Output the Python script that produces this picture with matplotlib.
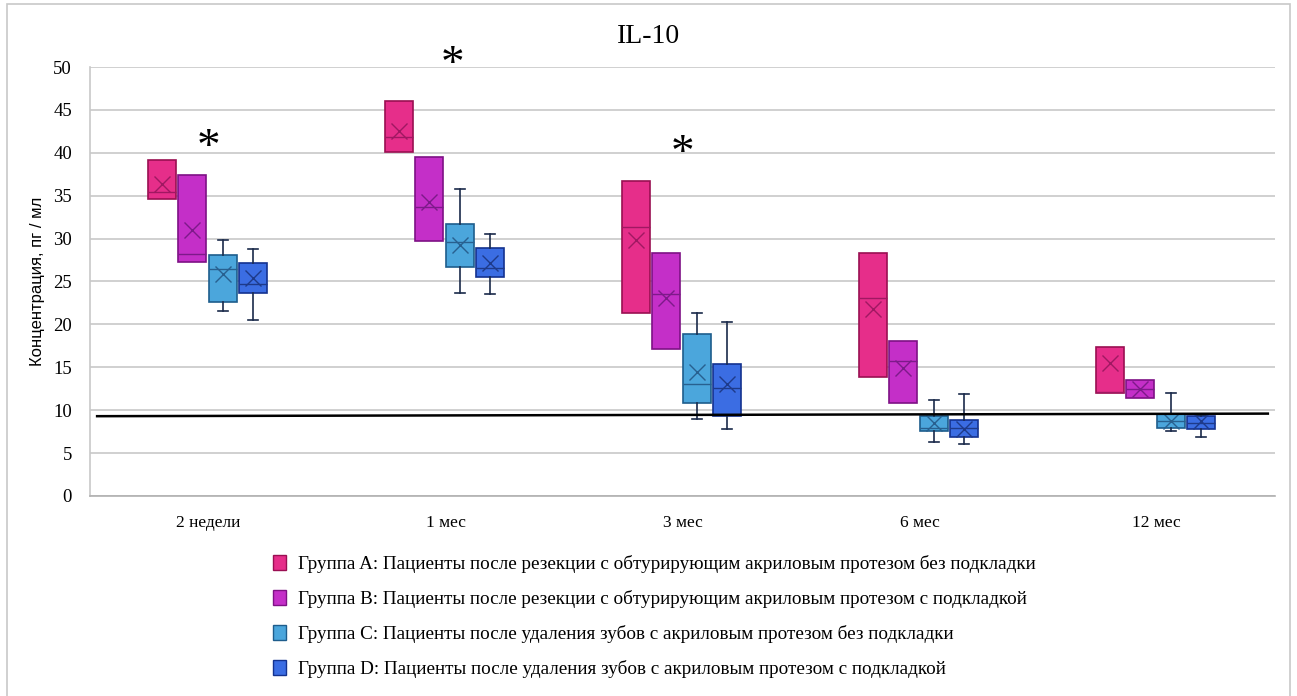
import numpy as np
import matplotlib
matplotlib.use("Agg")
import matplotlib.pyplot as plt
from matplotlib.patches import Rectangle, Patch

# Data
periods = ["2 недели", "1 мес", "3 мес", "6 мес", "12 мес"]
groups = [
    "Группа A: Пациенты после резекции с обтурирующим акриловым протезом без подкладки",
    "Группа B: Пациенты после резекции с обтурирующим акриловым протезом с подкладкой",
    "Группа C: Пациенты после удаления зубов с акриловым протезом без подкладки",
    "Группа D: Пациенты после удаления зубов с акриловым протезом с подкладкой",
]

# per group: one value per period
q1_a = [34.6, 40.1, 21.3, 13.9, 12.0]
q3_a = [39.2, 46.0, 36.7, 28.3, 17.4]
med_a = [35.4, 41.9, 31.4, 23.1, 12.1]
mean_a = [36.4, 42.5, 29.8, 21.8, 15.5]

q1_b = [27.3, 29.7, 17.1, 10.8, 11.4]
q3_b = [37.4, 39.5, 28.3, 18.1, 13.5]
med_b = [28.2, 33.7, 23.5, 15.7, 12.5]
mean_b = [31.0, 34.3, 23.1, 14.9, 12.5]

q1_c = [22.6, 26.7, 10.8, 7.6, 7.9]
q3_c = [28.1, 31.7, 18.9, 9.3, 9.6]
med_c = [26.5, 29.6, 13.1, 7.9, 8.7]
mean_c = [25.9, 29.3, 14.5, 8.5, 8.7]
lo_c = [21.6, 23.7, 9.0, 6.3, 7.6]
hi_c = [29.8, 35.8, 21.3, 11.2, 12.0]

q1_d = [23.7, 25.5, 9.3, 6.9, 7.8]
q3_d = [27.2, 28.9, 15.4, 8.9, 9.3]
med_d = [24.7, 26.6, 12.6, 7.9, 8.5]
mean_d = [25.4, 27.2, 13.0, 7.8, 8.7]
lo_d = [20.5, 23.5, 7.8, 6.1, 6.9]
hi_d = [28.8, 30.5, 20.3, 11.9, 9.4]

# significance marks: period index, height
star_pos = [0.0, 1.03, 2.0]
star_y = [41.8, 51.4, 41.1]

# reference line (start, end)
ref_line = [9.3, 9.6]

face_colors = ["#E62E8A", "#C42FC8", "#4BA6DC", "#3B6DE3"]
edge_colors = ["#9A0F52", "#7E1185", "#1E5D8C", "#14328F"]
mark_colors = ["#A01862", "#7D1A8A", "#28608F", "#1E3A8A"]

serif = "Liberation Serif"

fig = plt.figure(figsize=(12.97, 6.96), dpi=100)
ax = fig.add_axes([0.0694, 0.2874, 0.9136, 0.6163])

all_sets = [
    (q1_a, q3_a, med_a, mean_a, q1_a, q3_a),
    (q1_b, q3_b, med_b, mean_b, q1_b, q3_b),
    (q1_c, q3_c, med_c, mean_c, lo_c, hi_c),
    (q1_d, q3_d, med_d, mean_d, lo_d, hi_d),
]

offsets = [-0.195, -0.068, 0.06, 0.187]
width = 0.118

for g, (q1, q3, med, mean, lo, hi) in enumerate(all_sets):
    stats = []
    for i in range(len(periods)):
        stats.append(dict(q1=q1[i], q3=q3[i], med=med[i], mean=mean[i],
                          whislo=lo[i], whishi=hi[i], fliers=[]))
    pos = np.arange(len(periods)) + offsets[g]
    has_whisk = g >= 2
    ax.bxp(stats, positions=pos, widths=width, patch_artist=True,
           showmeans=True, showcaps=has_whisk, capwidths=width * 0.35,
           boxprops=dict(facecolor=face_colors[g], edgecolor=edge_colors[g], linewidth=1.2),
           medianprops=dict(color=mark_colors[g], linewidth=1.0),
           meanprops=dict(marker="x", markeredgecolor=mark_colors[g], markersize=11,
                          markeredgewidth=1.0),
           whiskerprops=dict(color="#1A2A4A", linewidth=1.2, visible=has_whisk),
           capprops=dict(color="#1A2A4A", linewidth=1.2),
           zorder=3)

ax.plot([-0.47, 4.47], ref_line, color="black", linewidth=1.8, zorder=4)

for x, y in zip(star_pos, star_y):
    ax.text(x, y - 1.3, "*", ha="center", va="center", fontsize=34, family=serif,
            clip_on=False, zorder=5)

ax.set_xlim(-0.5, 4.5)
ax.set_ylim(0, 50)
ax.set_yticks(np.arange(0, 51, 5))
ax.set_xticks(np.arange(len(periods)))
ax.set_xticklabels(periods, family=serif, fontsize=12.5)
for lab in ax.get_yticklabels():
    lab.set_family(serif)
    lab.set_fontsize(13.5)
ax.tick_params(axis="x", length=0, pad=14)
ax.tick_params(axis="y", length=0, pad=13)
ax.yaxis.grid(True, color="#C8C8C8", linewidth=1.2, zorder=0)
ax.set_axisbelow(True)
for s in ["top", "right"]:
    ax.spines[s].set_visible(False)
ax.spines["left"].set_color("#C8C8C8")
ax.spines["bottom"].set_color("#B0B0B0")
ax.spines["left"].set_linewidth(1.2)
ax.spines["bottom"].set_linewidth(1.2)
ax.set_ylabel("Концентрация, пг / мл", family="Liberation Sans", fontsize=12, labelpad=6)

fig.text(0.5, 0.948, "IL-10", ha="center", va="center", family=serif, fontsize=20)

handles = [Patch(facecolor=face_colors[g], edgecolor=edge_colors[g]) for g in range(4)]
leg = fig.legend(handles, groups, loc="upper left", bbox_to_anchor=(0.197, 0.228),
                 frameon=False, prop=dict(family=serif, size=13.8),
                 handlelength=0.7, handleheight=0.85, handletextpad=0.6,
                 labelspacing=0.88)

fig.patches.append(Rectangle((7 / 1297, -0.02), 1283 / 1297, 1.014,
                             transform=fig.transFigure, fill=False,
                             edgecolor="#C8C8C8", linewidth=1.2))

fig.savefig("out.png", dpi=100)
